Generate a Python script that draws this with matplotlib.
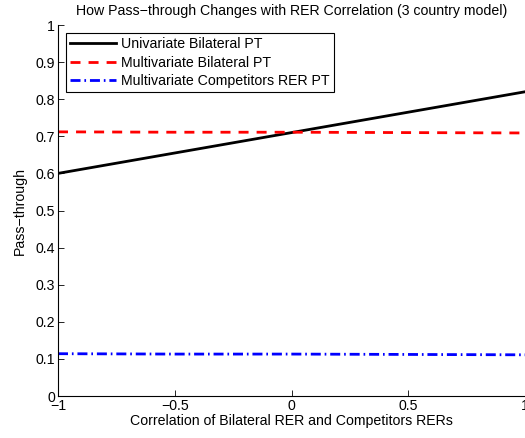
import matplotlib
matplotlib.use('Agg')
import matplotlib.pyplot as plt

plt.rcParams['font.family'] = ['Liberation Sans', 'DejaVu Sans']
plt.rcParams['font.size'] = 10.2

#====================================
# data
#====================================
corr = [-1.0, -0.5, 0.0, 0.5, 1.0]
univ_bilateral = [0.600, 0.655, 0.710, 0.765, 0.820]
multi_bilateral = [0.712, 0.711, 0.711, 0.710, 0.709]
multi_competitors = [0.114, 0.113, 0.113, 0.112, 0.111]

fig = plt.figure(figsize=(5.25, 4.38), dpi=100)
ax = fig.add_axes([58/525, 42/438, 467/525, 371/438])

ax.plot(corr, univ_bilateral, color='black', lw=2, label='Univariate Bilateral PT')
ax.plot(corr, multi_bilateral, color='red', lw=2, linestyle=(0, (3.6, 2.9)),
        label='Multivariate Bilateral PT')
ax.plot(corr, multi_competitors, color='blue', lw=2, linestyle=(0, (3.6, 1.4, 0.6, 1.4)),
        label='Multivariate Competitors RER PT')

ax.set_xlim(-1, 1)
ax.set_ylim(0, 1)
ax.set_xticks([-1, -0.5, 0, 0.5, 1])
ax.set_xticklabels(['\u22121', '\u22120.5', '0', '0.5', '1'])
ax.set_yticks([i/10 for i in range(11)])
ax.set_yticklabels(['0', '0.1', '0.2', '0.3', '0.4', '0.5', '0.6', '0.7', '0.8', '0.9', '1'])
ax.tick_params(direction='in', length=4, width=0.6, colors='black', labelsize=10.2, pad=2)
ax.spines['top'].set_visible(False)
ax.spines['right'].set_visible(False)
for s in ['left', 'bottom']:
    ax.spines[s].set_linewidth(0.8)

ax.set_xlabel('Correlation of Bilateral RER and Competitors RERs', labelpad=1)
ax.set_ylabel('Pass\u2212through', labelpad=6)
ax.set_title('How Pass\u2212through Changes with RER Correlation (3 country model)',
             fontsize=10.2, pad=7)

leg = ax.legend(loc='upper left', bbox_to_anchor=(8/467, 1 - 8/371), fancybox=False,
                framealpha=1, edgecolor='black', handlelength=3.2,
                borderpad=0.3, labelspacing=0.3, handletextpad=0.4, borderaxespad=0)
leg.get_frame().set_linewidth(0.8)

fig.savefig('out.png', dpi=100)
